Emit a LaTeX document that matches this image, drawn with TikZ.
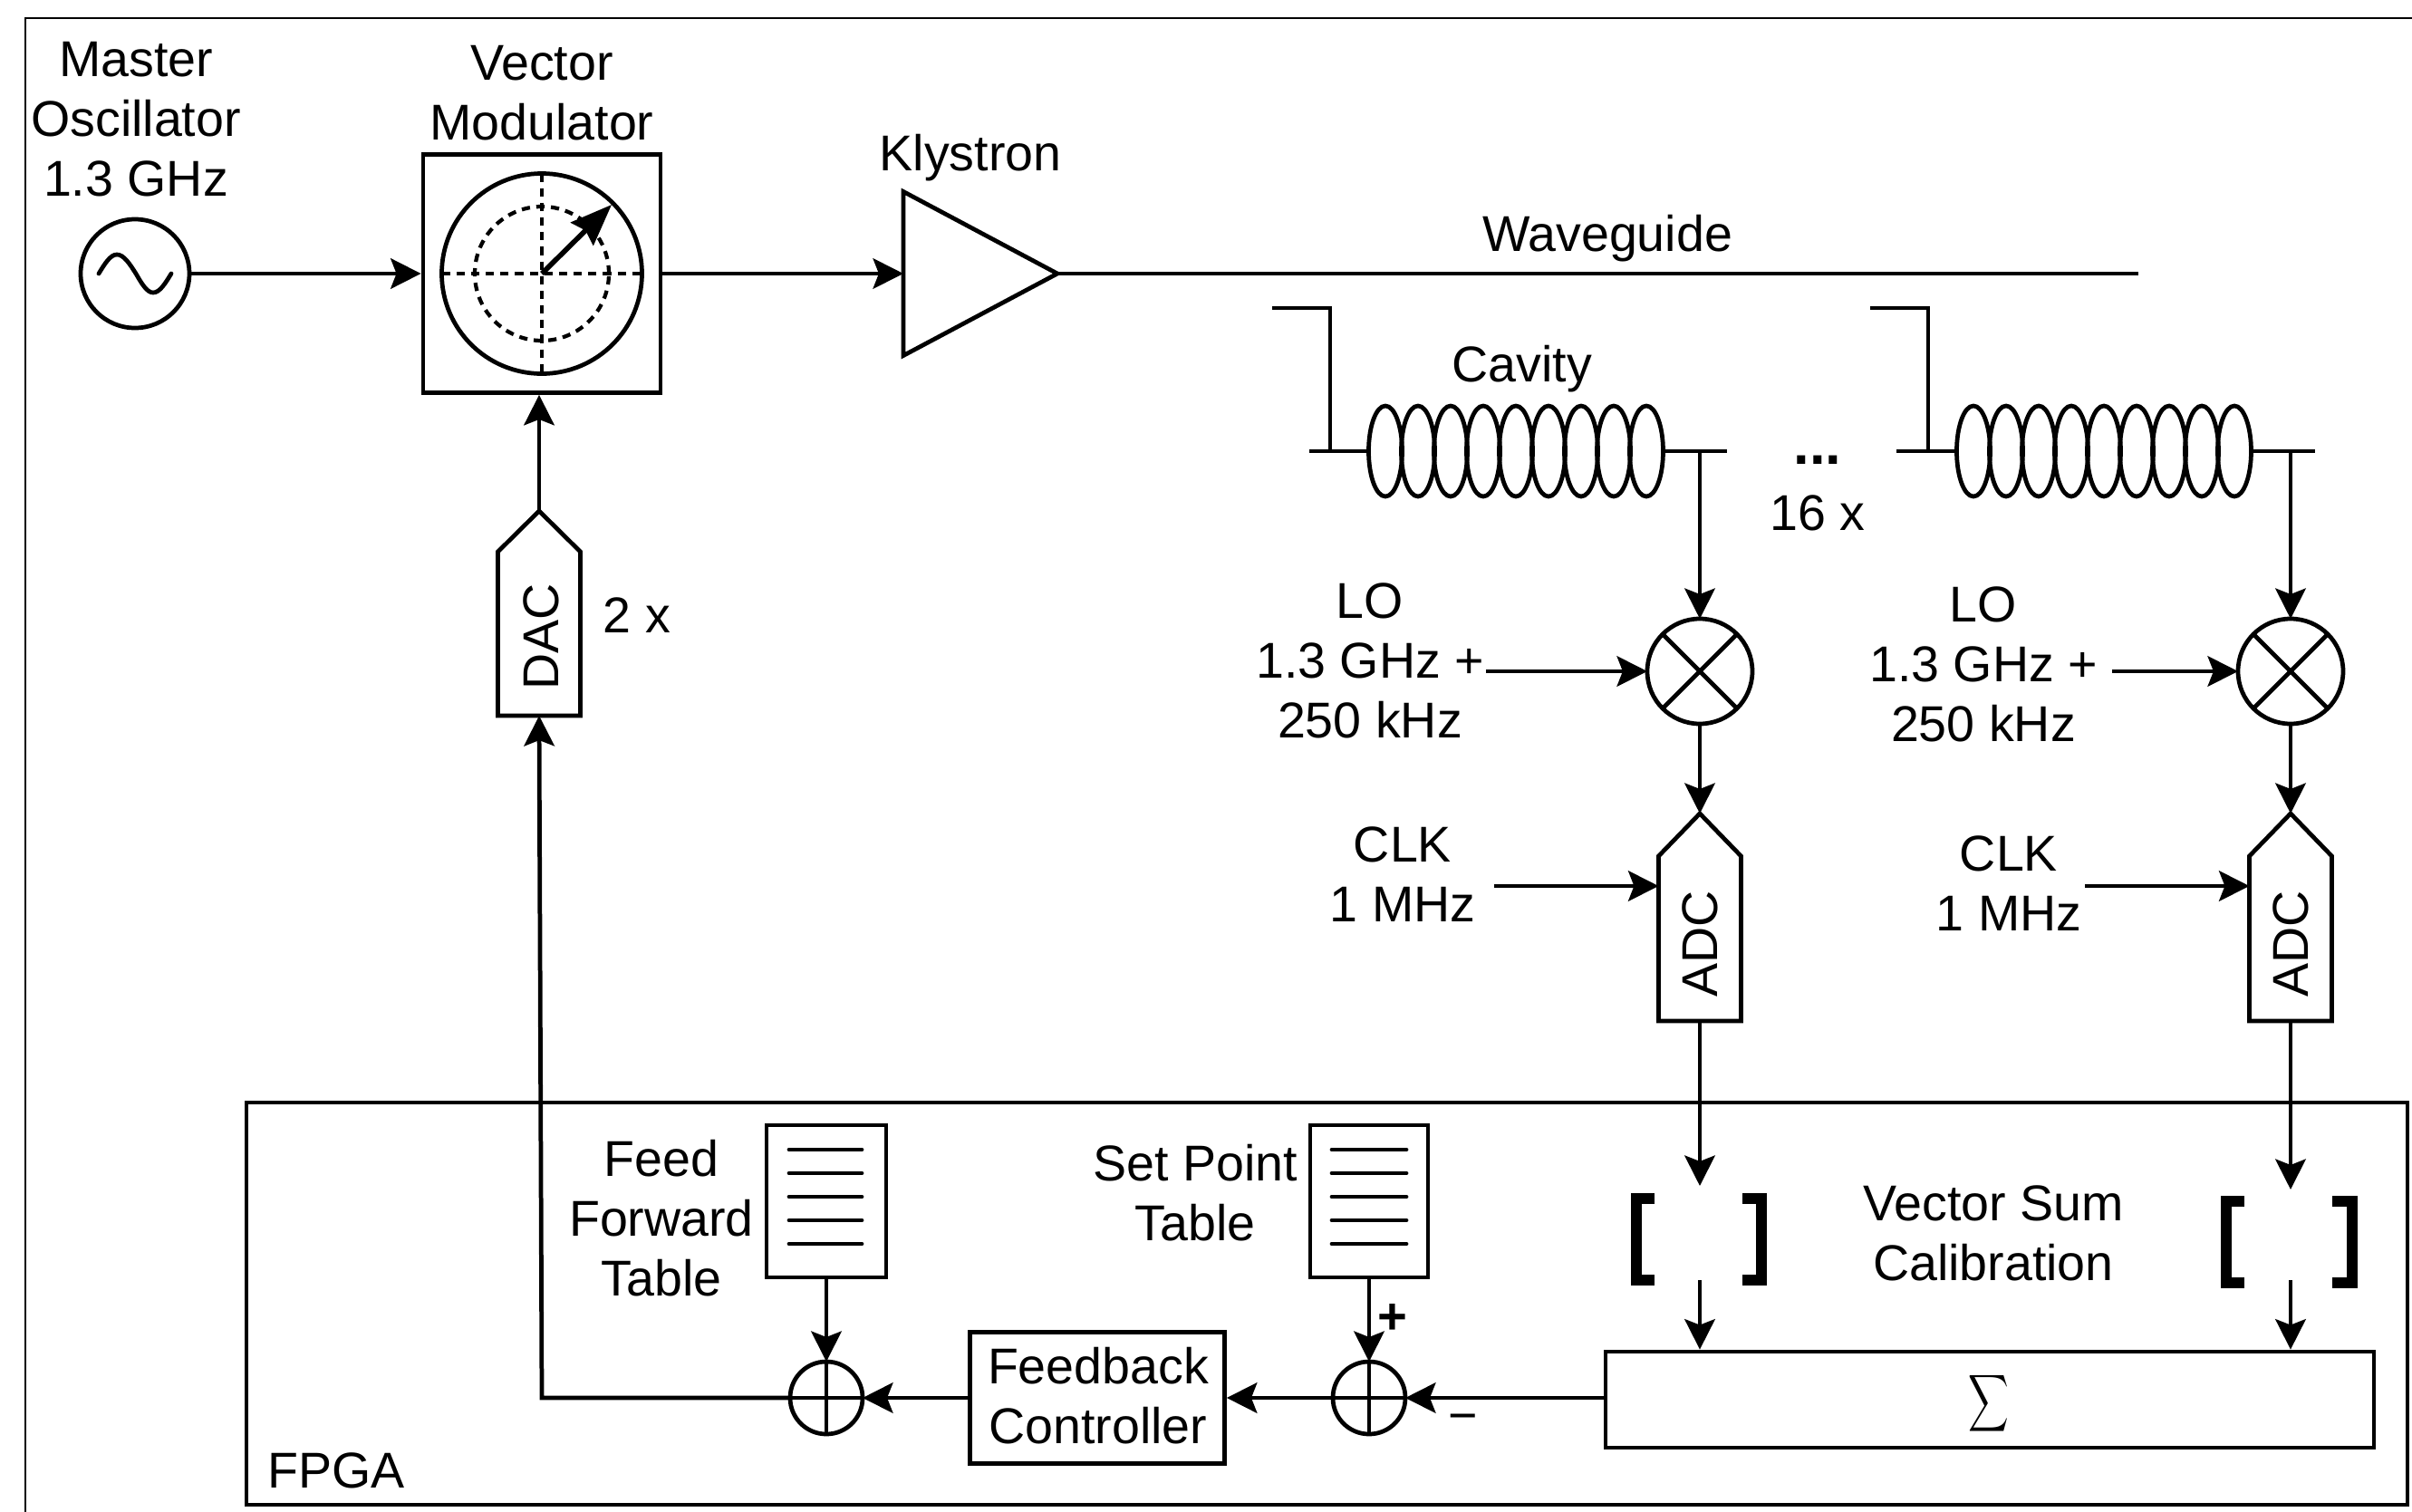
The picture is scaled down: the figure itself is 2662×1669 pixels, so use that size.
\documentclass[tikz,border=0pt]{standalone}
\usepackage{fontspec}
\setmainfont{Liberation Sans}
\usetikzlibrary{arrows.meta,calc}
\tikzset{
  wire/.style={line width=1.35pt,line join=miter},
  sig/.style={wire,-{Stealth[length=9.5pt,width=9.5pt,inset=1.8pt]}},
  box/.style={draw,wire,rectangle,inner sep=0pt,minimum width=#1},
  hiddenbox/.style={rectangle,inner sep=0pt,outer sep=0pt},
  ring/.style={draw,wire,circle,inner sep=0pt,outer sep=0pt,minimum size=#1},
  lbl/.style={font=\fontsize{15.8}{18.8}\selectfont,align=center,inner sep=0pt},
  tick/.style={wire,line cap=round},
  dash line/.style={line width=1.2pt,dash pattern=on 2.6pt off 2pt},
  bracket/.style={line width=3.4pt,line join=miter,line cap=butt}
}
\begin{document}
\begin{tikzpicture}[x=0.01cm,y=-0.01cm]
\useasboundingbox (0,0) rectangle (2662,1669);
\def\px{0.01cm}
% page frame
\draw[line width=0.8pt] (28,1669) -- (28,20) -- (2662,20);

% FPGA
\node[box=2385*\px,minimum height=444*\px] (fpga) at (1464.5,1439) {};
\node[lbl] (fpgalbl) at (371,1623) {FPGA};

% oscillator
\node[ring=120*\px] (osc) at (149,302) {};
\draw[wire,line cap=round] (109,302) sin (129,281) cos (150,302) sin (169,323) cos (189,302);
\node[lbl] (osclbl) at (150,132) {Master\\Oscillator\\1.3 GHz};

% vector modulator
\node[box=262*\px,minimum height=263*\px] (vm) at (598,302) {};
\node[ring=221*\px] (vmc) at (598,302) {};
\node[ring=148*\px,dash line,draw] (vmd) at (598,302) {};
\draw[dash line] (vmc.west) -- (vmc.east);
\draw[dash line] (vmc.north) -- (vmc.south);
\coordinate (vmtip) at (675,226);
\draw[line width=1.6pt,-{Stealth[length=13pt,width=10pt,inset=1.5pt]}] (vmc.center) -- (vmtip);
\node[lbl] (vmlbl) at (598,103) {Vector\\Modulator};

% klystron
\node[hiddenbox,minimum width=170*\px,minimum height=181*\px] (kly) at (1082,302) {};
\draw[wire] (kly.north west) -- (kly.east) -- (kly.south west) -- cycle;
\node[lbl] (klylbl) at (1071,174) {Klystron};

% waveguide
\coordinate (wgend) at (2360,302);
\draw[wire] (kly.east) -- (wgend);
\node[lbl] (wglbl) at (1774,263) {Waveguide};

% DAC
\node[hiddenbox,minimum width=91*\px,minimum height=226*\px] (dac) at (595,677) {};
\draw[wire] (dac.north) -- ($(dac.north east)+(0,45)$) -- (dac.south east) -- (dac.south west) -- ($(dac.north west)+(0,45)$) -- cycle;
\node[lbl,rotate=90] (daclbl) at (597,703) {DAC};
\node[lbl] (dac2x) at (703,679) {2 x};

% cavity 1
\node[hiddenbox,minimum width=328*\px,minimum height=102*\px] (cav1) at (1673,498) {};
\foreach \i in {0,...,8} \draw[wire] (1529+36*\i,498) ellipse (18.5 and 50);
\coordinate (c1a) at (1404,340);
\coordinate (c1b) at (1468,340);
\coordinate (c1c) at (1445,498);
\coordinate (c1d) at (1906,498);
\coordinate (c1e) at (1468,498);
\draw[wire] (c1a) -- (c1b) -- (c1e);
\draw[wire] (c1c) -- (cav1.west);
\draw[wire] (cav1.east) -- (c1d);
\node[lbl] (cavlbl) at (1680,407) {Cavity};

% cavity 2
\node[hiddenbox,minimum width=328*\px,minimum height=102*\px] (cav2) at (2322,498) {};
\foreach \i in {0,...,8} \draw[wire] (2178+36*\i,498) ellipse (18.5 and 50);
\coordinate (c2a) at (2064,340);
\coordinate (c2b) at (2128,340);
\coordinate (c2c) at (2093,498);
\coordinate (c2d) at (2555,498);
\coordinate (c2e) at (2128,498);
\draw[wire] (c2a) -- (c2b) -- (c2e);
\draw[wire] (c2c) -- (cav2.west);
\draw[wire] (cav2.east) -- (c2d);

\node[lbl,font=\fontsize{18}{18.8}\bfseries\selectfont,anchor=base] (dots) at (2006,512) {...};
\node[lbl] (n16) at (2006,566) {16 x};

% mixers
\node[ring=116*\px] (mix1) at (1876,741) {};
\draw[wire] (mix1.north west) -- (mix1.south east);
\draw[wire] (mix1.north east) -- (mix1.south west);
\node[ring=116*\px] (mix2) at (2528,741) {};
\draw[wire] (mix2.north west) -- (mix2.south east);
\draw[wire] (mix2.north east) -- (mix2.south west);
\node[lbl] (lo1) at (1512,729) {LO\\1.3 GHz +\\250 kHz};
\node[lbl] (lo2) at (2189,733) {LO\\1.3 GHz +\\250 kHz};
\coordinate (lo1s) at (1640,741);
\coordinate (lo2s) at (2331,741);

% ADCs
\node[hiddenbox,minimum width=91*\px,minimum height=229*\px] (adc1) at (1876,1012.5) {};
\draw[wire] (adc1.north) -- ($(adc1.north east)+(0,47)$) -- (adc1.south east) -- (adc1.south west) -- ($(adc1.north west)+(0,47)$) -- cycle;
\node[lbl,rotate=90] (adc1lbl) at (1876,1042) {ADC};
\node[hiddenbox,minimum width=91*\px,minimum height=229*\px] (adc2) at (2528,1012.5) {};
\draw[wire] (adc2.north) -- ($(adc2.north east)+(0,47)$) -- (adc2.south east) -- (adc2.south west) -- ($(adc2.north west)+(0,47)$) -- cycle;
\node[lbl,rotate=90] (adc2lbl) at (2528,1042) {ADC};
\node[lbl] (clk1) at (1548,965) {CLK\\1 MHz};
\node[lbl] (clk2) at (2217,975) {CLK\\1 MHz};
\coordinate (clk1s) at (1649,978);
\coordinate (clk2s) at (2301,978);
\coordinate (clk1t) at (adc1.west |- clk1s);
\coordinate (clk2t) at (adc2.west |- clk2s);

% calibration brackets
\coordinate (b1in) at (1876,1309);
\coordinate (b1out) at (1876,1413);
\coordinate (b2in) at (2528,1313);
\coordinate (b2out) at (2528,1413);
\draw[bracket] (1826,1323) -- (1806,1323) -- (1806,1413) -- (1826,1413);
\draw[bracket] (1923,1323) -- (1944,1323) -- (1944,1413) -- (1923,1413);
\draw[bracket] (2477,1326) -- (2457,1326) -- (2457,1416) -- (2477,1416);
\draw[bracket] (2574,1326) -- (2596,1326) -- (2596,1416) -- (2574,1416);
\node[lbl] (vsc) at (2200,1361) {Vector Sum\\Calibration};

% sigma box
\node[box=848*\px,minimum height=106*\px] (sigma) at (2196,1545) {};
\node[inner sep=0pt,xscale=0.88,yscale=1.25] (sigmalbl) at (2195,1549) {$\displaystyle\sum$};

% tables
\node[box=132*\px,minimum height=168*\px] (ff) at (912,1326) {};
\node[box=130*\px,minimum height=168*\px] (sp) at (1511,1326) {};
\foreach \y in {1269,1295,1321,1347,1373} {
  \draw[tick] (871,\y) -- (951,\y);
  \draw[tick] (1470,\y) -- (1552,\y);
}
\node[lbl] (fflbl) at (730,1345) {Feed\\Forward\\Table};
\node[lbl] (splbl) at (1319,1317) {Set Point\\Table};

% summing junctions
\node[ring=80*\px] (sum1) at (912,1543) {};
\draw[wire] (sum1.north) -- (sum1.south);
\draw[wire] (sum1.west) -- (sum1.east);
\node[ring=80*\px] (sum2) at (1511,1543) {};
\draw[wire] (sum2.north) -- (sum2.south);
\draw[wire] (sum2.west) -- (sum2.east);
\node[lbl,font=\fontsize{16}{18.8}\bfseries\selectfont] (plus) at (1537,1456) {+};
\node[lbl] (minus) at (1615,1571) {−};

% feedback controller
\node[box=281*\px,minimum height=145*\px] (fb) at (1211,1543) {};
\node[lbl] (fblbl) at (1212,1541) {Feedback\\Controller};

% connectors
\coordinate (corner) at (598,1543);
\draw[sig] (osc) -- (vm);
\draw[sig] (vm) -- (kly.west);
\draw[sig] (dac.north) -- (dac.north |- vm.south);
\draw[sig] (sum1.west) -- (corner) -- (dac.south);
\draw[sig] (c1d -| mix1) -- (mix1.north);
\draw[sig] (c2d -| mix2) -- (mix2.north);
\draw[sig] (lo1s) -- (mix1.west);
\draw[sig] (lo2s) -- (mix2.west);
\draw[sig] (mix1.south) -- (adc1.north);
\draw[sig] (mix2.south) -- (adc2.north);
\draw[sig] (clk1s) -- (clk1t);
\draw[sig] (clk2s) -- (clk2t);
\draw[sig] (adc1.south) -- (b1in);
\draw[sig] (adc2.south) -- (b2in);
\draw[sig] (b1out) -- (b1out |- sigma.north);
\draw[sig] (b2out) -- (b2out |- sigma.north);
\draw[sig] (sigma.west |- sum2) -- (sum2.east);
\draw[sig] (sum2.west) -- (fb.east);
\draw[sig] (fb.west) -- (sum1.east);
\draw[sig] (ff.south) -- (sum1.north);
\draw[sig] (sp.south) -- (sum2.north);
\end{tikzpicture}
\end{document}
